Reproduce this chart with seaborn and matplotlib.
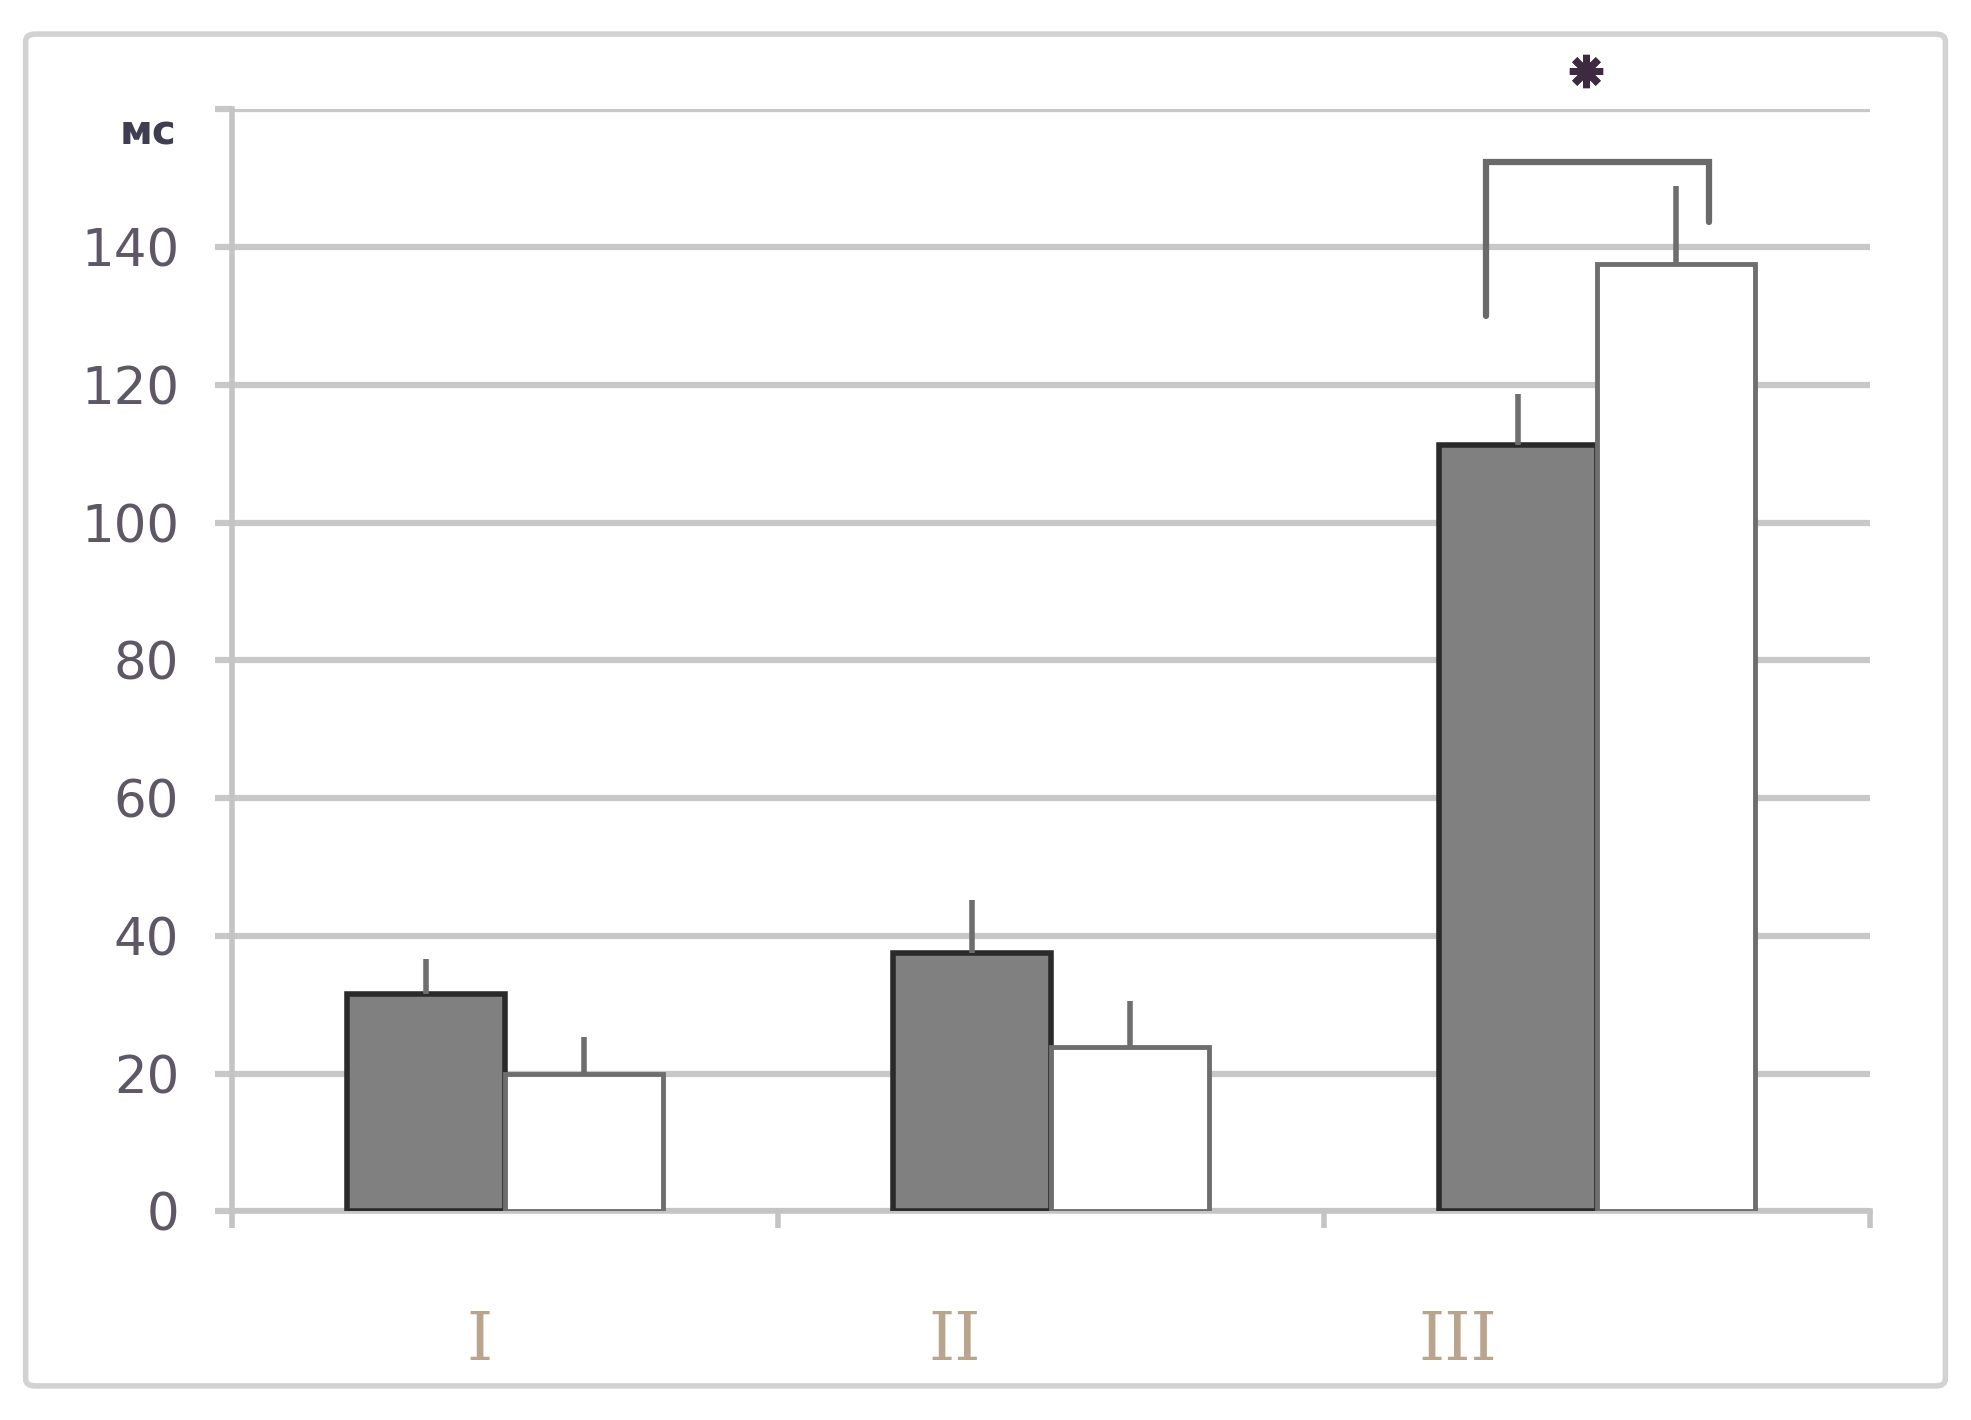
import matplotlib
matplotlib.use('Agg')
import matplotlib.pyplot as plt
from matplotlib.patches import FancyBboxPatch
import seaborn as sns
import pandas as pd

# data
groups = ['I', 'II', 'III']
series = ['a', 'b']
dark_vals = [31.5, 37.5, 111.2]
white_vals = [20.0, 23.9, 137.6]
dark_err = [5.2, 7.7, 7.5]
white_err = [5.3, 6.7, 11.2]
y_ticks = [0, 20, 40, 60, 80, 100, 120, 140, 160]
y_labels = ['0', '20', '40', '60', '80', '100', '120', '140', '']
unit = 'мс'

df = pd.DataFrame({
    'group': groups * 2,
    'series': [series[0]] * 3 + [series[1]] * 3,
    'value': dark_vals + white_vals,
})

sns.set_style('white')
plt.rcParams['font.family'] = ['DejaVu Sans']

fig = plt.figure(figsize=(19.71, 14.2), dpi=100)
ax = fig.add_axes([0.1177, 0.147, 0.831, 0.776])

sns.barplot(data=df, x='group', y='value', hue='series', order=groups,
            hue_order=series, palette=['#808080', '#ffffff'], width=0.58,
            errorbar=None, legend=False, ax=ax, zorder=3)

# bar borders + one-sided error bars
errs = dark_err + white_err
for i, p in enumerate(ax.patches[:6]):
    if i < 3:
        p.set_edgecolor('#2a2a2a')
        p.set_linewidth(4)
    else:
        p.set_edgecolor('#6e6e6e')
        p.set_linewidth(3.5)
    cx = p.get_x() + p.get_width() / 2
    top = p.get_height()
    ax.plot([cx, cx], [top, top + errs[i]], color='#6e6e6e', lw=4,
            zorder=4, solid_capstyle='butt')

# significance bracket on group III
d3 = ax.patches[2]
w3 = ax.patches[5]
xl = d3.get_x() + d3.get_width() * 0.3
xr = w3.get_x() + w3.get_width() * 0.71
ax.plot([xl, xl, xr, xr], [130, 152.4, 152.4, 143.7], color='#6a6a6a',
        lw=4.5, zorder=5, solid_joinstyle='miter')
ax.plot([1.98], [165.5], marker=(8, 2, 0), markersize=24, mew=5,
        color='#3e2a40', clip_on=False, zorder=6)

ax.set_xlim(-0.5, 2.5)
ax.set_ylim(0, 160)
ax.set_yticks(y_ticks)
ax.set_yticklabels(y_labels)
ax.yaxis.grid(True, color='#c8c8c8', lw=4.5, zorder=0)
ax.set_axisbelow(True)

for s in ['top', 'right']:
    ax.spines[s].set_visible(False)
ax.spines['left'].set_color('#c4c4c4')
ax.spines['left'].set_linewidth(4)
ax.spines['bottom'].set_color('#c4c4c4')
ax.spines['bottom'].set_linewidth(4)

ax.tick_params(axis='y', left=True, length=12, width=4.5, color='#c8c8c8',
               pad=26, labelsize=37, labelcolor='#5e5866')

# category labels sit left of the bar pairs in the original
ax.set_xticks([-0.046, 0.824, 1.745])
ax.set_xticklabels(groups)
ax.set_xticks([-0.5, 0.5, 1.5, 2.5], minor=True)
ax.tick_params(axis='x', which='minor', bottom=True, length=12, width=4,
               color='#c4c4c4')
ax.tick_params(axis='x', which='major', bottom=False, length=0, pad=70)
for lab in ax.get_xticklabels():
    lab.set_fontfamily('DejaVu Serif')
    lab.set_fontsize(48)
    lab.set_color('#b9a48e')
ax.text(-0.034, 156.5, unit, transform=ax.get_yaxis_transform(),
        ha='right', va='center', fontsize=29, fontweight='bold',
        color='#3e3e50')
ax.set_xlabel('')
ax.set_ylabel('')

# outer frame
fig.patches.append(FancyBboxPatch((0.013, 0.024), 0.974, 0.952,
                                  boxstyle='round,pad=0,rounding_size=0.005',
                                  transform=fig.transFigure, fill=False,
                                  edgecolor='#d2d2d2', lw=4))

fig.savefig('out.png', dpi=100)
